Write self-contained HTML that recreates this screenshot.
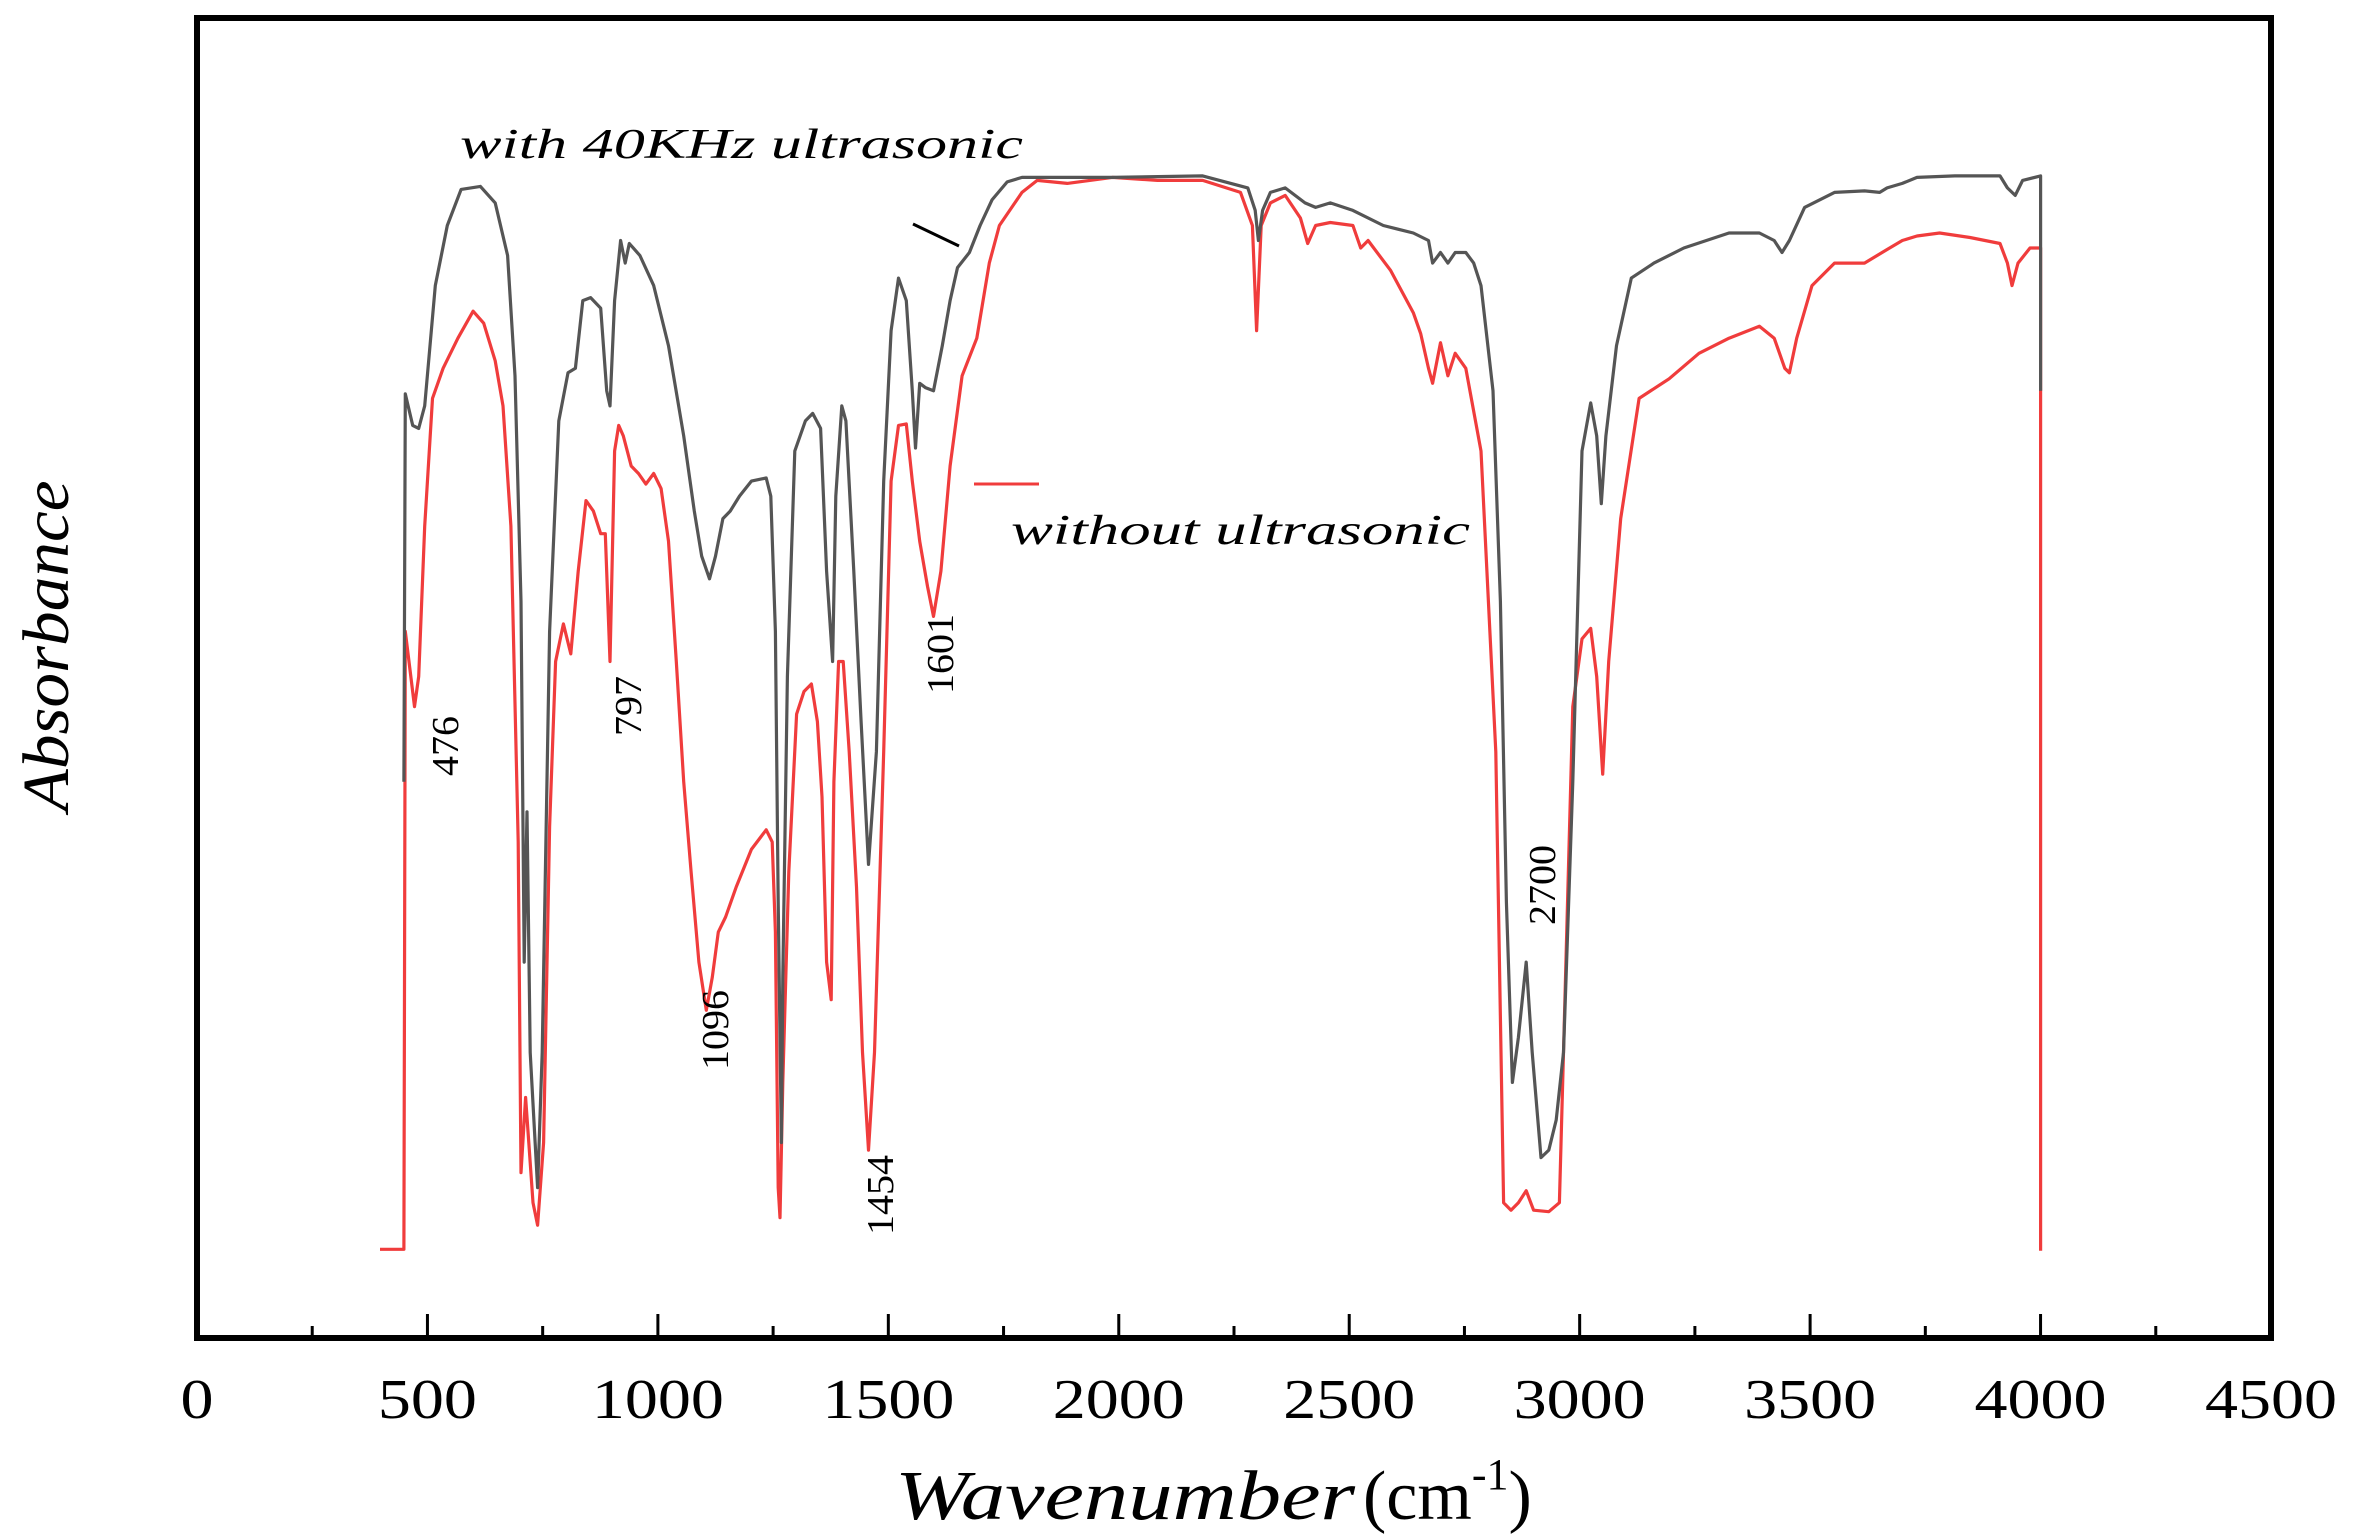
<!DOCTYPE html>
<html><head><meta charset="utf-8"><style>
html,body{margin:0;padding:0;background:#fff;}
svg{display:block;}
text{font-family:"Liberation Serif",serif;fill:#000;}
</style></head><body>
<svg id="chart" width="2357" height="1538" viewBox="0 0 2357 1538" xmlns="http://www.w3.org/2000/svg">
<rect width="2357" height="1538" fill="#fff"/>
<g id="series"></g>
<rect x="197" y="18" width="2074" height="1320" fill="none" stroke="#000" stroke-width="6"/>
<g id="ticks"></g>
<text x="895" y="1519" font-size="70"><tspan font-style="italic" textLength="460" lengthAdjust="spacingAndGlyphs">Wavenumber</tspan><tspan dx="8">(cm</tspan><tspan dy="-30" font-size="44">-1</tspan><tspan dy="30">)</tspan></text>
<text transform="translate(68,646) rotate(-90)" text-anchor="middle" font-size="66" font-style="italic" textLength="331" lengthAdjust="spacingAndGlyphs">Absorbance</text>
<text x="460" y="158" font-size="42" font-style="italic" textLength="563" lengthAdjust="spacingAndGlyphs">with 40KHz ultrasonic</text>
<line x1="913" y1="224" x2="959" y2="246" stroke="#000" stroke-width="3"/>
<line x1="974" y1="484" x2="1039" y2="484" stroke="#f03c3c" stroke-width="3"/>
<text x="1011" y="544" font-size="42" font-style="italic" textLength="459" lengthAdjust="spacingAndGlyphs">without ultrasonic</text>
<g id="peaks"></g>
</svg>
<script>
const xTicks = [0,500,1000,1500,2000,2500,3000,3500,4000,4500];
const xMinor = [250,750,1250,1750,2250,2750,3250,3750,4250];
const grayWn = [449,452,468,481,494,517,543,573,615,647,674,690,703,710,716,723,739,749,765,785,805,821,837,854,876,889,896,906,919,929,938,961,991,1023,1056,1079,1095,1112,1125,1141,1157,1177,1203,1235,1245,1255,1261,1268,1271,1281,1297,1320,1336,1353,1366,1379,1386,1399,1408,1425,1441,1457,1474,1490,1506,1522,1539,1552,1559,1568,1581,1598,1617,1634,1650,1676,1699,1725,1758,1790,1856,1986,2182,2280,2296,2303,2312,2329,2361,2404,2427,2459,2508,2574,2639,2672,2681,2698,2714,2730,2753,2770,2786,2812,2828,2841,2854,2867,2884,2897,2916,2933,2949,2965,2985,3005,3024,3037,3047,3057,3080,3112,3161,3226,3324,3390,3422,3439,3455,3488,3553,3618,3651,3667,3700,3732,3814,3912,3928,3945,3961,4000,4000];
const grayVal = [370,628,607,605,620,700,740,764,766,755,720,640,490,250,350,190,100,190,470,610,642,645,690,692,685,630,620,690,730,715,728,720,700,660,600,550,520,505,520,545,550,560,570,572,560,470,290,130,240,440,590,610,615,605,510,450,560,620,610,510,410,315,390,570,670,705,690,630,592,635,632,630,660,690,712,722,740,757,769,772,772,772,773,765,750,730,750,762,765,755,752,755,750,740,735,730,715,722,715,722,722,715,700,630,490,290,170,200,250,190,120,125,145,190,370,590,622,600,555,600,660,705,715,725,735,735,730,722,730,752,762,763,762,765,768,772,773,773,765,760,770,773,630];
const redWn = [397,449,452,462,472,481,494,511,534,566,599,622,647,664,681,697,703,713,720,729,739,752,765,778,795,811,827,844,860,876,886,896,906,915,925,942,958,974,991,1007,1023,1040,1056,1072,1089,1105,1118,1131,1147,1170,1203,1235,1248,1255,1261,1265,1271,1284,1301,1317,1333,1346,1356,1366,1376,1382,1392,1402,1415,1431,1444,1457,1470,1490,1506,1522,1539,1552,1568,1585,1598,1614,1634,1660,1692,1719,1741,1790,1823,1888,1986,2084,2182,2264,2290,2299,2309,2329,2361,2394,2410,2427,2459,2508,2525,2541,2590,2639,2655,2672,2681,2698,2714,2730,2753,2786,2818,2835,2851,2867,2884,2900,2933,2956,2965,2985,3005,3024,3037,3050,3063,3089,3129,3194,3259,3324,3390,3422,3445,3455,3471,3504,3553,3618,3667,3700,3732,3781,3847,3912,3928,3938,3951,3977,4000,4000];
const redVal = [59,59,470,445,420,440,540,625,645,665,683,675,650,620,540,330,110,160,130,90,75,130,340,450,475,455,510,557,550,535,535,450,590,607,600,580,575,568,575,565,530,450,370,310,250,218,240,270,280,300,325,338,330,270,100,80,170,310,415,430,435,410,360,250,225,370,450,450,390,300,190,125,190,390,570,607,608,570,530,500,480,510,580,640,665,715,740,762,770,768,772,770,770,762,740,670,740,755,760,745,728,740,742,740,725,730,710,682,668,645,635,662,640,655,645,590,390,90,85,90,98,85,84,90,190,420,465,472,440,375,450,545,625,638,655,665,673,665,645,642,665,700,715,715,724,730,733,735,732,728,715,700,715,725,725,58];
const peakLabels = ["476","797","1096","1454","1601","2700"];
const peakWn = [476,797,1096,1454,1601,2700];

const X0=197, X1=2271, Y0=1338, Y1=18;
const xScale = wn => X0 + (wn/4500)*(X1-X0);
const yScale = v => Y0 - (v/878)*(Y0-Y1);
const NS="http://www.w3.org/2000/svg";

function drawSeries(wn, val, color, name){
  const p=document.createElementNS(NS,'polyline');
  p.setAttribute('points', wn.map((w,i)=>xScale(w).toFixed(1)+','+yScale(val[i]).toFixed(1)).join(' '));
  p.setAttribute('fill','none');
  p.setAttribute('stroke',color);
  p.setAttribute('stroke-width','3.2');
  p.setAttribute('stroke-linejoin','round');
  
  
  document.getElementById('series').appendChild(p);
}
drawSeries(redWn, redVal, '#f03c3c', 'series-without-ultrasonic');
drawSeries(grayWn, grayVal, '#555555', 'series-with-ultrasonic');

const tg=document.getElementById('ticks');
xTicks.forEach(t=>{
  const x=xScale(t);
  if(t>0 && t<4500){
    const l=document.createElementNS(NS,'line');
    l.setAttribute('x1',x);l.setAttribute('x2',x);l.setAttribute('y1',Y0);l.setAttribute('y2',Y0-24);
    l.setAttribute('stroke','#000');l.setAttribute('stroke-width','3');
    
    
    tg.appendChild(l);
  }
  const tx=document.createElementNS(NS,'text');
  tx.setAttribute('x',x);tx.setAttribute('y',1418);
  tx.setAttribute('text-anchor','middle');tx.setAttribute('font-size','56');
  tx.setAttribute('textLength', String(t).length*33);
  tx.setAttribute('lengthAdjust','spacingAndGlyphs');
  tx.textContent=t;
  
  
  tg.appendChild(tx);
});
xMinor.forEach(t=>{
  const x=xScale(t);
  const l=document.createElementNS(NS,'line');
  l.setAttribute('x1',x);l.setAttribute('x2',x);l.setAttribute('y1',Y0);l.setAttribute('y2',Y0-12);
  l.setAttribute('stroke','#000');l.setAttribute('stroke-width','3');
  
  
  tg.appendChild(l);
});

const peakPos=[[458,746],[641,706],[728,1030],[893,1195],[953,654],[1555,885]];
const pg=document.getElementById('peaks');
peakLabels.forEach((lab,i)=>{
  const t=document.createElementNS(NS,'text');
  t.setAttribute('transform','translate('+peakPos[i][0]+','+peakPos[i][1]+') rotate(-90)');
  t.setAttribute('text-anchor','middle');
  t.setAttribute('font-size','38');
  t.setAttribute('textLength', lab.length*20);
  t.setAttribute('lengthAdjust','spacingAndGlyphs');
  t.textContent=lab;
  
  
  pg.appendChild(t);
});
</script>
</body></html>
